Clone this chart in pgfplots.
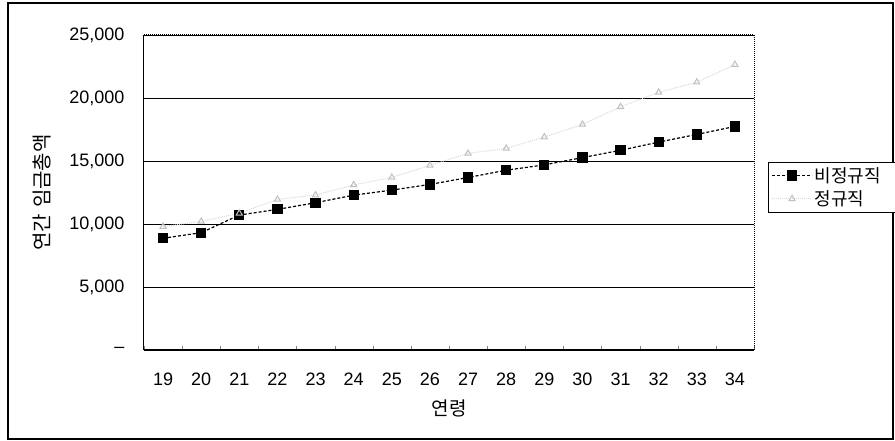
\documentclass[border=0pt]{standalone}
\usepackage{pgfplots}
\pgfplotsset{compat=1.18}
\usepackage{fontspec}
\setmainfont{Liberation Sans}
\newfontfamily\kr{Noto Sans CJK KR}
\begin{document}
\begin{tikzpicture}[x=1pt,y=1pt]
\useasboundingbox (-144,-91) rectangle (751,350);
\draw[line width=1.5pt] (-136,-89) rectangle (749,347);
\begin{axis}[
  at={(0,0)}, anchor=south west,
  scale only axis, width=610pt, height=315pt,
  xmin=18.5, xmax=34.5, ymin=0, ymax=25000,
  scaled y ticks=false,
  axis x line*=bottom, axis y line*=left,
  axis line style={-, line width=1pt},
  xtick={19,...,34},
  xticklabels={19,20,21,22,23,24,25,26,27,28,29,30,31,32,33,34},
  major x tick style={draw=none},
  minor xtick={18.5,19.5,...,34.5},
  minor tick length=4pt,
  x tick label style={font=\fontsize{18}{20}\selectfont, yshift=-19pt},
  ytick={0,5000,10000,15000,20000,25000},
  yticklabels={--,{5,000},{10,000},{15,000},{20,000},{25,000}},
  y tick label style={font=\fontsize{18}{20}\selectfont, xshift=-16pt},
  ytick style={draw=none},
  ymajorgrids, grid style={black, line width=0.8pt},
  xlabel={\kr 연령}, xlabel style={font=\fontsize{19}{21}\selectfont, yshift=-8pt},
  ylabel={\kr 연간\hspace{6pt}임금총액}, ylabel style={font=\fontsize{20}{22}\selectfont, yshift=11pt},
  legend style={at={(1.023,0.597)}, anchor=north west, draw=black, line width=0.8pt,
     font=\fontsize{18}{20}\selectfont\kr, inner xsep=3pt, inner ysep=3pt, row sep=3pt},
  legend cell align=left,
  legend image code/.code={\draw[mark repeat=2,mark phase=2,#1] plot coordinates {(0pt,0pt) (20pt,0pt) (40pt,0pt)};},
  clip=false,
]
\draw[densely dotted, line width=1pt] (rel axis cs:0,1) -- (rel axis cs:1,1) -- (rel axis cs:1,0);
\addplot[black, densely dashed, line width=1.2pt, mark=square*, mark size=4.5pt,
  mark options={solid, fill=black}] coordinates {
(19,8870) (20,9310) (21,10710) (22,11160) (23,11690) (24,12290) (25,12690) (26,13140)
(27,13690) (28,14270) (29,14690) (30,15270) (31,15850) (32,16500) (33,17110) (34,17740)};
\addlegendentry{비정규직\rule{14pt}{0pt}}
\addplot[black!15, densely dotted, line width=1pt, mark=triangle, mark size=3.5pt,
  mark options={solid, black!25}] coordinates {
(19,9800) (20,10200) (21,10850) (22,11950) (23,12300) (24,13100) (25,13700) (26,14650)
(27,15600) (28,16000) (29,16900) (30,17900) (31,19300) (32,20450) (33,21250) (34,22650)};
\addlegendentry{정규직}
\end{axis}
\end{tikzpicture}
\end{document}
